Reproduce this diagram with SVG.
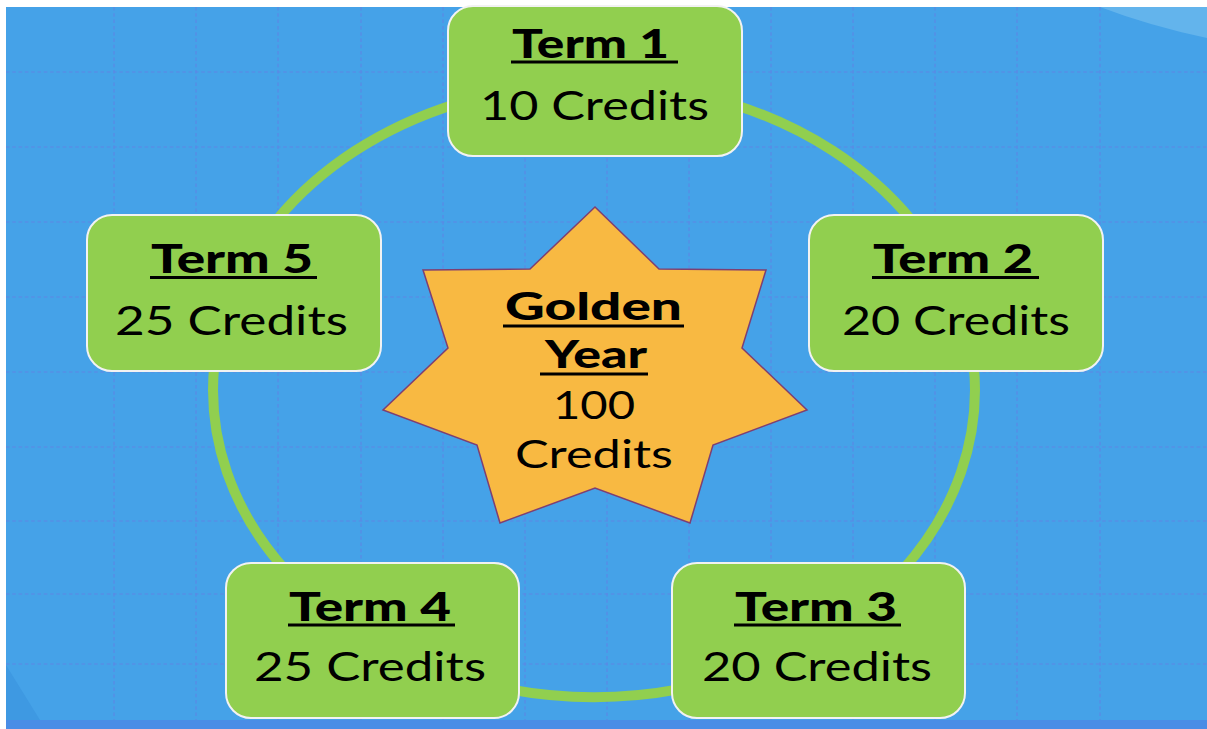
<svg xmlns="http://www.w3.org/2000/svg" width="1207" height="729" viewBox="0 0 1207 729">
<defs>
<style>
.grid{stroke:#5A8BE5;stroke-width:1.6;stroke-dasharray:3.5 2.8;fill:none;opacity:0.8}
.box{fill:#91CF4F;stroke:#F2F2F2;stroke-width:2}
.arc{fill:none;stroke:#91CF4F;stroke-width:10}
.t{font-family:Lato,"Liberation Sans",sans-serif;fill:#000}
.h{font-size:40px;font-weight:900}
.c{font-size:40px;font-weight:400}
.sh{font-size:37px;font-weight:900}
.sc{font-size:38px;font-weight:400}
.ul{fill:#000}
</style>
</defs>
<rect x="0" y="0" width="1207" height="729" fill="#FFFFFF"/>
<rect x="6" y="7" width="1201" height="722" fill="#45A2E8"/>
<path d="M1100,7 Q1150,26 1207,38 L1207,7 Z" fill="#63B4EC"/>
<path d="M6,665 L40,720 L6,720 Z" fill="#3E99E2"/>
<rect x="6" y="720" width="1201" height="9" fill="#4A8DE6"/>
<g id="grid">
<path class="grid" d="M114,7V720M196,7V720M278,7V720M361,7V720M443,7V720M525,7V720M607,7V720M689,7V720M771,7V720M853,7V720M935,7V720M1017,7V720M1100,7V720"/>
<path class="grid" d="M6,72H1207M6,147H1207M6,222H1207M6,297H1207M6,372H1207M6,447H1207M6,521H1207M6,594H1207M6,664H1207"/>
</g>
<g id="connectors">
<path class="arc" d="M276.7,220 A381,307 0 0 1 455,104.2"/>
<path class="arc" d="M733,104.2 A381,307 0 0 1 911.3,220"/>
<path class="arc" d="M973.7,365 A381,307 0 0 1 902.6,570"/>
<path class="arc" d="M680,689.1 A381,307 0 0 1 508,689.1"/>
<path class="arc" d="M285.4,570 A381,307 0 0 1 214.3,365"/>
</g>
<g id="term1">
<rect class="box" x="448" y="6" width="294" height="150" rx="25"/>
<text class="t h" x="512" y="58" textLength="157" lengthAdjust="spacingAndGlyphs">Term 1</text>
<rect class="ul" x="511" y="60.5" width="167" height="3"/>
<text class="t c" x="480" y="120" textLength="229" lengthAdjust="spacingAndGlyphs">10 Credits</text>
</g>
<g id="term2">
<rect class="box" x="809" y="215" width="294" height="156" rx="25"/>
<text class="t h" x="873" y="273" textLength="160" lengthAdjust="spacingAndGlyphs">Term 2</text>
<rect class="ul" x="872" y="276" width="167" height="3"/>
<text class="t c" x="842" y="335" textLength="228" lengthAdjust="spacingAndGlyphs">20 Credits</text>
</g>
<g id="term3">
<rect class="box" x="672" y="563" width="293" height="155" rx="25"/>
<text class="t h" x="735" y="621" textLength="162" lengthAdjust="spacingAndGlyphs">Term 3</text>
<rect class="ul" x="734" y="623.5" width="167" height="3"/>
<text class="t c" x="702" y="681" textLength="230" lengthAdjust="spacingAndGlyphs">20 Credits</text>
</g>
<g id="term4">
<rect class="box" x="226" y="563" width="293" height="155" rx="25"/>
<text class="t h" x="289" y="621" textLength="162" lengthAdjust="spacingAndGlyphs">Term 4</text>
<rect class="ul" x="288" y="623.5" width="167" height="3"/>
<text class="t c" x="254" y="681" textLength="232" lengthAdjust="spacingAndGlyphs">25 Credits</text>
</g>
<g id="term5">
<rect class="box" x="87" y="215" width="294" height="156" rx="25"/>
<text class="t h" x="151" y="273" textLength="162" lengthAdjust="spacingAndGlyphs">Term 5</text>
<rect class="ul" x="150" y="276" width="167" height="3"/>
<text class="t c" x="115" y="335" textLength="233" lengthAdjust="spacingAndGlyphs">25 Credits</text>
</g>
<g id="golden-year">
<polygon points="595,207 659,269 766,270 742,348 807,410 713,445 690,523 595,488 500,523 477,445 383,410 448,348 423,270 530,269" fill="#F8B942" stroke="#7E3F72" stroke-width="1.5" stroke-linejoin="miter"/>
<text class="t sh" x="505" y="320" textLength="177" lengthAdjust="spacingAndGlyphs">Golden</text>
<rect class="ul" x="503" y="324.5" width="181" height="3"/>
<text class="t sh" x="545" y="368" textLength="102" lengthAdjust="spacingAndGlyphs">Year</text>
<rect class="ul" x="540" y="372.5" width="108" height="3"/>
<text class="t sc" x="553" y="419" textLength="82" lengthAdjust="spacingAndGlyphs">100</text>
<text class="t sc" x="515" y="468" textLength="158" lengthAdjust="spacingAndGlyphs">Credits</text>
</g>
</svg>
